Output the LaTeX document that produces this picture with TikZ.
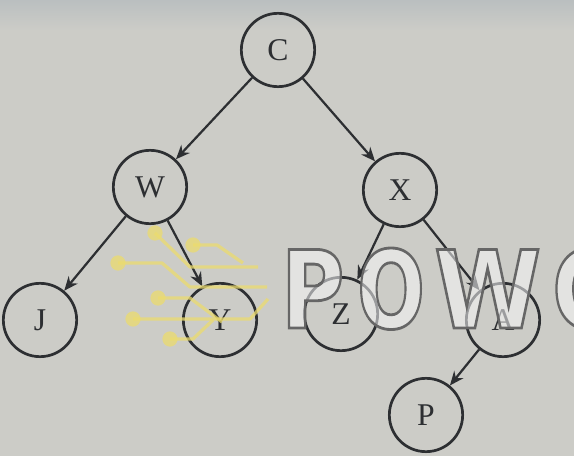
\documentclass[tikz,border=0pt]{standalone}
\usepackage{fontspec}
\setmainfont{Liberation Serif}
\newfontfamily\markfont{DejaVu Sans}
\usetikzlibrary{arrows.meta}
\definecolor{paper}{RGB}{204,204,199}
\definecolor{paperTop}{RGB}{186,191,192}
\definecolor{ink}{RGB}{45,47,50}
\definecolor{traceyel}{RGB}{236,220,110}
\newcommand{\outlined}[1]{\special{pdf:literal direct 2 Tr 2.4 w 0.97 g 0.40 G}#1\special{pdf:literal direct 0 Tr}}
\begin{document}
\begin{tikzpicture}[x=0.03cm,y=-0.03cm,
  tnode/.style={circle,draw=ink,line width=2.3pt,minimum size=2.2cm,inner sep=0pt,
    text=ink,font=\fontsize{27}{27}\selectfont},
  link/.style={draw=ink,line width=1.9pt,-{Stealth[length=12pt,width=10pt]}},
  trace/.style={draw=traceyel,line width=2.8pt,line join=round},
  pad/.style={circle,fill=traceyel,inner sep=0pt,minimum size=13pt},
  wmark/.style={anchor=base west,inner sep=0pt,transform shape,
    font=\markfont\bfseries\fontsize{92}{92}\selectfont}]
% backdrop
\fill[paper] (0,0) rectangle (574,456);
\fill[top color=paperTop,bottom color=paper] (0,0) rectangle (574,30);
\useasboundingbox (0,0) rectangle (574,456);

% tree nodes
\node[tnode] (c) at (278,50) {C};
\node[tnode] (w) at (150,187) {W};
\node[tnode] (x) at (400,190) {X};
\node[tnode] (j) at (40,320) {J};
\node[tnode] (y) at (220,320) {Y};
\node[tnode] (z) at (341,314) {Z};
\node[tnode] (a) at (503,320) {A};
\node[tnode] (p) at (426,415) {P};

% edges
\draw[link] (c) -- (w);
\draw[link] (c) -- (x);
\draw[link] (w) -- (j);
\draw[link] (w) -- (y);
\draw[link] (x) -- (z);
\draw[link] (x) -- (a);
\draw[link] (a) -- (p);

% yellow circuit traces
\begin{scope}[opacity=0.75]
  \node[pad] (t1) at (155,233) {};
  \node[pad] (t2) at (193,245) {};
  \node[pad] (t3) at (118,263) {};
  \node[pad] (t4) at (158,298) {};
  \node[pad] (t5) at (133,319) {};
  \node[pad] (t6) at (170,339) {};
  \coordinate (e1) at (258,267);
  \coordinate (e2) at (243,263);
  \coordinate (e3) at (267,287);
  \coordinate (e4) at (222,322);
  \coordinate (e5) at (268,299);
  \coordinate (e6) at (213,320);
  \draw[trace] (t1.center) -- (190,267) -- (e1);
  \draw[trace] (t2.center) -- (217,245) -- (e2);
  \draw[trace] (t3.center) -- (162,263) -- (190,287) -- (e3);
  \draw[trace] (t4.center) -- (190,298) -- (e4);
  \draw[trace] (t5.center) -- (250,319) -- (e5);
  \draw[trace] (t6.center) -- (193,339) -- (e6);
\end{scope}

% outlined watermark lettering
\begin{scope}
  \clip (0,0) rectangle (574,456);
  \begin{scope}[fill opacity=0.55]
    \node[wmark,xscale=0.8] (m1) at (281,328) {\outlined{P}};
    \node[wmark,xscale=0.74] (m2) at (357,328) {\outlined{O}};
    \node[wmark,xscale=0.9] (m3) at (434,328) {\outlined{W}};
    \node[wmark,xscale=0.8] (m4) at (552,328) {\outlined{C}};
  \end{scope}
\end{scope}
\end{tikzpicture}
\end{document}
